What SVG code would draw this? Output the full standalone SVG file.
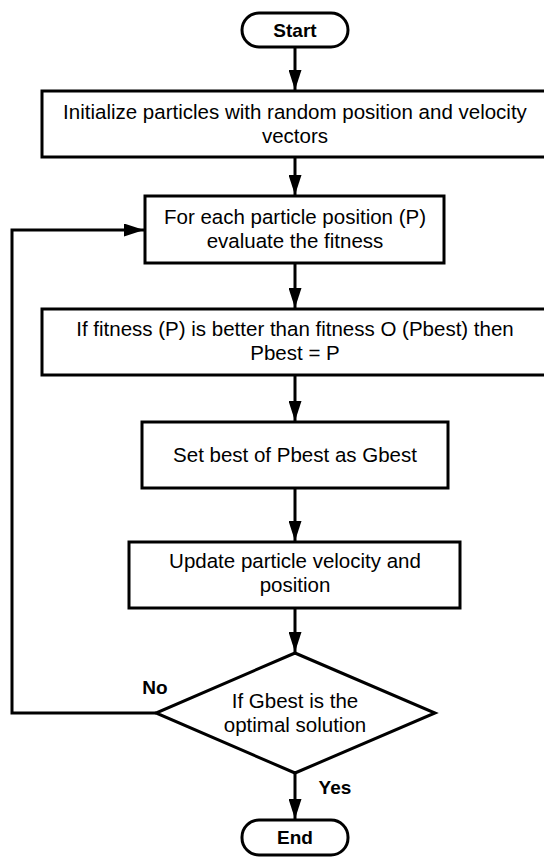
<svg xmlns="http://www.w3.org/2000/svg" width="544" height="858" viewBox="0 0 544 858">
<style>
.box{fill:#fff;stroke:#000;stroke-width:3}
.t{font-family:"Liberation Sans",Arial,sans-serif;font-size:20.5px;fill:#000;text-anchor:middle}
.b{font-family:"Liberation Sans",Arial,sans-serif;font-size:19px;font-weight:bold;fill:#000;text-anchor:middle}
.c{fill:none;stroke:#000;stroke-width:3}
</style>
<defs>
<marker id="ah" markerUnits="userSpaceOnUse" markerWidth="20" markerHeight="13" refX="20" refY="6.5" orient="auto">
<path d="M0,0 L20,6.5 L0,13 z" fill="#000"/>
</marker>
</defs>
<g id="connectors">
<line class="c" x1="295" y1="47" x2="295" y2="90" marker-end="url(#ah)"/>
<line class="c" x1="295" y1="157" x2="295" y2="195" marker-end="url(#ah)"/>
<line class="c" x1="295" y1="263" x2="295" y2="308" marker-end="url(#ah)"/>
<line class="c" x1="295" y1="375" x2="295" y2="421" marker-end="url(#ah)"/>
<line class="c" x1="295" y1="488" x2="295" y2="541" marker-end="url(#ah)"/>
<line class="c" x1="295" y1="608" x2="295" y2="652" marker-end="url(#ah)"/>
<line class="c" x1="295" y1="773" x2="295" y2="819" marker-end="url(#ah)"/>
<polyline class="c" points="156,713 12,713 12,230 144,230" marker-end="url(#ah)"/>
<text class="b" x="155" y="694">No</text>
<text class="b" x="335" y="794">Yes</text>
</g>
<g id="start">
<rect class="box" x="242" y="13" width="106" height="34" rx="17"/>
<text class="b" x="295" y="37">Start</text>
</g>
<g id="init">
<rect class="box" x="42" y="91" width="506" height="66"/>
<text class="t" x="295" y="119">Initialize particles with random position and velocity</text>
<text class="t" x="295" y="143">vectors</text>
</g>
<g id="evaluate">
<rect class="box" x="145" y="196" width="299" height="67"/>
<text class="t" x="295" y="224">For each particle position (P)</text>
<text class="t" x="295" y="248">evaluate the fitness</text>
</g>
<g id="pbest">
<rect class="box" x="42" y="309" width="506" height="66"/>
<text class="t" x="295" y="336">If fitness (P) is better than fitness O (Pbest) then</text>
<text class="t" x="295" y="360">Pbest = P</text>
</g>
<g id="gbest">
<rect class="box" x="142" y="422" width="306" height="66"/>
<text class="t" x="295" y="462">Set best of Pbest as Gbest</text>
</g>
<g id="update">
<rect class="box" x="129" y="542" width="331" height="66"/>
<text class="t" x="295" y="568">Update particle velocity and</text>
<text class="t" x="295" y="592">position</text>
</g>
<g id="decision">
<polygon class="box" points="295,653 435,713 295,773 156,713"/>
<text class="t" x="295" y="708">If Gbest is the</text>
<text class="t" x="295" y="732">optimal solution</text>
</g>
<g id="end">
<rect class="box" x="242" y="820" width="106" height="35" rx="17"/>
<text class="b" x="295" y="844">End</text>
</g>
</svg>
